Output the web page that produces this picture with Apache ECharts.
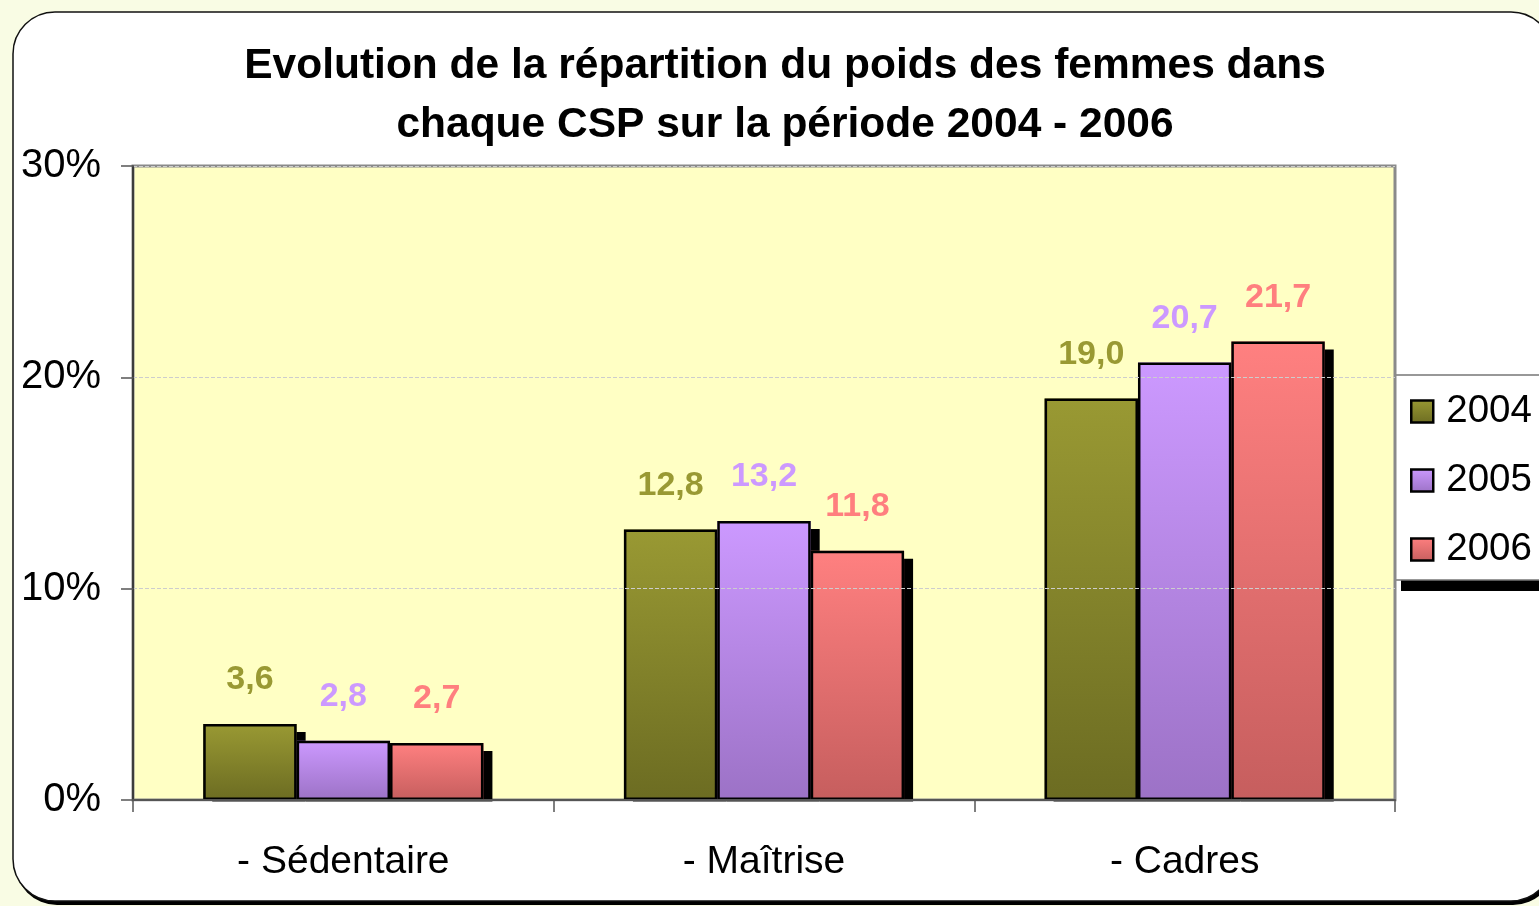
<!DOCTYPE html>
<html>
<head>
<meta charset="utf-8">
<script src="https://cdn.jsdelivr.net/npm/echarts@6/dist/echarts.min.js"></script>
<style>
  html, body { margin: 0; padding: 0; background: #f9fce4; }
  #chart { width: 1539px; height: 906px; }
</style>
</head>
<body>
<div id="chart"></div>
<script>
const categories = ['- Sédentaire', '- Maîtrise', '- Cadres']
const years = ['2004', '2005', '2006']
const values2004 = [3.6, 12.8, 19.0]
const values2005 = [2.8, 13.2, 20.7]
const values2006 = [2.7, 11.8, 21.7]

const colors = [
  { top: '#999933', bottom: '#6c6c22', label: '#999933' },
  { top: '#cc99ff', bottom: '#9c72c6', label: '#cc99ff' },
  { top: '#ff8080', bottom: '#c65e5e', label: '#ff7f7f' }
]

const fontFamily = 'Arial, "Liberation Sans", sans-serif'
const barGap = '0%'
const barCategoryGap = '33.4%'

// filled bars carry the drop shadow, no border
const fillSeries = (name, data, c) => ({
  name,
  type: 'bar',
  data,
  barGap,
  barCategoryGap,
  itemStyle: {
    color: new echarts.graphic.LinearGradient(0, 0, 0, 1, [
      { offset: 0, color: c.top },
      { offset: 1, color: c.bottom }
    ]),
    borderWidth: 0,
    shadowColor: '#000',
    shadowBlur: 0,
    shadowOffsetX: 9,
    shadowOffsetY: 8
  },
  label: {
    show: true,
    position: 'top',
    distance: 27,
    color: c.label,
    fontFamily,
    fontWeight: 'bold',
    fontSize: 34,
    formatter: (p) => p.value.toFixed(1).replace('.', ',')
  }
})

// same bars again on a hidden axis, only the black outline
const borderSeries = (data) => ({
  type: 'bar',
  xAxisIndex: 1,
  data,
  barGap,
  barCategoryGap,
  silent: true,
  itemStyle: { color: 'transparent', borderColor: '#000', borderWidth: 2.5 }
})

const chart = echarts.init(document.getElementById('chart'))

chart.setOption({
  animation: false,
  backgroundColor: '#f9fce4',
  textStyle: { fontFamily },
  graphic: [
    {
      type: 'rect',
      z: -11,
      shape: { x: 15, y: 16, width: 1540, height: 889, r: 42 },
      style: { fill: '#000' }
    },
    {
      type: 'rect',
      z: -10,
      shape: { x: 13, y: 12, width: 1540, height: 889, r: 42 },
      style: { fill: '#fff', stroke: '#111', lineWidth: 1.5 }
    },
    {
      type: 'rect',
      z: -9,
      shape: { x: 1401, y: 381, width: 200, height: 210 },
      style: { fill: '#000' }
    },
    {
      type: 'rect',
      z: -8,
      shape: { x: 1395, y: 375, width: 200, height: 205 },
      style: { fill: '#fff', stroke: '#777', lineWidth: 1.5 }
    },
    {
      type: 'rect',
      z: 3,
      shape: { x: 133, y: 801.5, width: 1270, height: 10 },
      style: { fill: '#fff' }
    }
  ],
  title: {
    text: 'Evolution de la répartition du poids des femmes dans\nchaque CSP sur la période 2004 - 2006',
    left: 785,
    top: 37,
    padding: 0,
    textAlign: 'center',
    textStyle: {
      fontFamily,
      fontWeight: 'bold',
      fontSize: 42.5,
      lineHeight: 59,
      color: '#000'
    }
  },
  legend: {
    data: years,
    orient: 'vertical',
    left: 1410,
    top: 392,
    padding: 0,
    itemGap: 30,
    itemWidth: 22,
    itemHeight: 22,
    icon: 'rect',
    itemStyle: { borderColor: '#000', borderWidth: 2.5 },
    textStyle: { fontFamily, fontSize: 38.5, color: '#000', padding: [0, 0, 0, 8] }
  },
  grid: {
    left: 133,
    top: 166,
    width: 1262,
    height: 634,
    show: true,
    backgroundColor: '#ffffc4',
    borderColor: '#8a8a8a',
    borderWidth: 3
  },
  xAxis: [
    {
      type: 'category',
      data: categories,
      z: 5,
      axisLine: { lineStyle: { color: '#555', width: 2 } },
      axisTick: { show: true, length: 12, lineStyle: { color: '#555', width: 1.5 } },
      axisLabel: { fontFamily, fontSize: 39, color: '#000', margin: 43 }
    },
    {
      type: 'category',
      data: categories,
      show: false
    }
  ],
  yAxis: {
    type: 'value',
    min: 0,
    max: 30,
    interval: 10,
    z: 5,
    axisLine: { show: true, lineStyle: { color: '#222', width: 1.5 } },
    axisTick: { show: true, length: 12, lineStyle: { color: '#555', width: 1.5 } },
    axisLabel: { fontFamily, fontSize: 40, color: '#000', margin: 32, formatter: '{value}%' },
    splitLine: { lineStyle: { color: '#cdcdcd', type: 'dashed', width: 1 } }
  },
  series: [
    fillSeries(years[0], values2004, colors[0]),
    fillSeries(years[1], values2005, colors[1]),
    fillSeries(years[2], values2006, colors[2]),
    borderSeries(values2004),
    borderSeries(values2005),
    borderSeries(values2006)
  ]
})
</script>
</body>
</html>
